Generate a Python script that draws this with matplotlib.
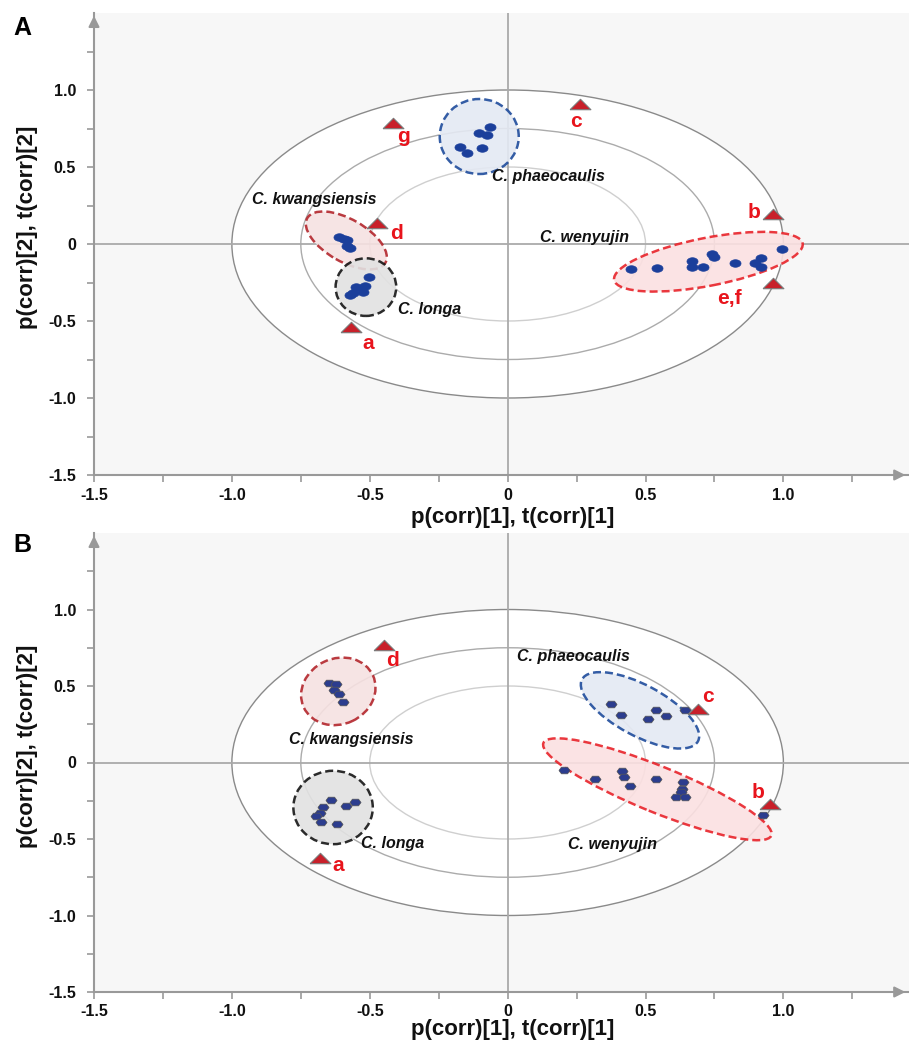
import numpy as np
import matplotlib
matplotlib.use("Agg")
import matplotlib.pyplot as plt
from matplotlib.patches import Ellipse
from matplotlib.transforms import ScaledTranslation
from matplotlib.ticker import FixedLocator, FuncFormatter

plt.rcParams['font.family'] = ['Liberation Sans', 'DejaVu Sans']

# ---- panel A: scores t(corr) per species ----
a_kwang_x = [-0.610, -0.592, -0.581, -0.584, -0.573]
a_kwang_y = [0.045, 0.032, 0.026, -0.013, -0.026]
a_longa_x = [-0.501, -0.519, -0.549, -0.525, -0.573, -0.561]
a_longa_y = [-0.212, -0.273, -0.281, -0.310, -0.331, -0.316]
a_phaeo_x = [-0.063, -0.104, -0.074, -0.174, -0.146, -0.092]
a_phaeo_y = [0.762, 0.719, 0.708, 0.632, 0.591, 0.625]
a_wenyu_x = [0.449, 0.542, 0.669, 0.669, 0.709, 0.740, 0.748, 0.824, 0.897, 0.917, 0.917, 0.995]
a_wenyu_y = [-0.164, -0.158, -0.108, -0.147, -0.147, -0.065, -0.082, -0.125, -0.125, -0.093, -0.147, -0.030]

# panel A: loadings p(corr) of marker compounds
a_load_names = ['a', 'b', 'c', 'd', 'e,f', 'g']
a_load_x = [-0.567, 0.961, 0.261, -0.473, 0.961, -0.416]
a_load_y = [-0.541, 0.195, 0.909, 0.138, -0.251, 0.784]

# ---- panel B ----
b_kwang_x = [-0.646, -0.622, -0.630, -0.613, -0.597]
b_kwang_y = [0.522, 0.516, 0.477, 0.446, 0.396]
b_longa_x = [-0.642, -0.586, -0.553, -0.670, -0.680, -0.694, -0.676, -0.620]
b_longa_y = [-0.246, -0.286, -0.258, -0.294, -0.327, -0.349, -0.388, -0.403]
b_phaeo_x = [0.376, 0.410, 0.509, 0.537, 0.576, 0.642]
b_phaeo_y = [0.381, 0.309, 0.285, 0.346, 0.303, 0.346]
b_wenyu_x = [0.204, 0.316, 0.415, 0.421, 0.443, 0.537, 0.636, 0.633, 0.627, 0.612, 0.642, 0.927]
b_wenyu_y = [-0.050, -0.111, -0.055, -0.094, -0.153, -0.105, -0.127, -0.176, -0.192, -0.225, -0.225, -0.340]

b_load_names = ['a', 'b', 'c', 'd']
b_load_x = [-0.680, 0.951, 0.691, -0.450]
b_load_y = [-0.621, -0.268, 0.348, 0.767]

# label placement (data coords): loadings letters, species names
a_lbl_x = [-0.507, 0.892, 0.246, -0.402, 0.806, -0.379]
a_lbl_y = [-0.680, 0.167, 0.762, 0.034, -0.390, 0.664]
b_lbl_x = [-0.614, 0.909, 0.727, -0.416]
b_lbl_y = [-0.710, -0.229, 0.396, 0.629]

species = ['C. kwangsiensis', 'C. longa', 'C. phaeocaulis', 'C. wenyujin']
a_sp_x = [-0.926, -0.396, -0.056, 0.116]
a_sp_y = [0.292, -0.424, 0.437, 0.044]
b_sp_x = [-0.794, -0.531, 0.035, 0.219]
b_sp_y = [0.152, -0.529, 0.695, -0.534]

# group ellipses: centre (data), semi-axes (px), angle (deg)
a_groups = [(-0.585, 0.023, 45.0, 21.3, -29.7),
            (-0.514, -0.280, 30.3, 28.8, 0.0),
            (-0.103, 0.698, 39.5, 37.5, 0.0),
            (0.728, -0.115, 96.0, 24.0, 11.0)]
b_groups = [(-0.614, 0.465, 38.1, 32.8, 24.8),
            (-0.633, -0.294, 39.7, 36.7, 0.0),
            (0.480, 0.341, 65.7, 25.4, -28.1),
            (0.543, -0.175, 123.0, 23.0, -22.1)]

grp_edge = ['#b3262c', '#151515', '#1f4c9c', '#e8232a']
grp_face = ['#f6e1e1', '#e2e2e2', '#e4e9f3', '#fbe0e1']

DPI = 100
fig = plt.figure(figsize=(9.09, 10.47), dpi=DPI)

oval = [(0.5 * np.cos(t), 0.34 * np.sin(t)) for t in np.linspace(0, 2 * np.pi, 30)]
hexa = [(-1, 0), (-0.55, 0.6), (0.55, 0.6), (1, 0), (0.55, -0.6), (-0.55, -0.6), (-1, 0)]
tri = [(-1, -0.5), (1, -0.5), (0, 0.5), (-1, -0.5)]


def fmt(v, _):
    return '0' if abs(v) < 1e-9 else f'{v:.1f}'


def draw_panel(ax, scores, load, lbl, sp_pos, groups, marker, msize, mcolor, medge):
    ax.set_xlim(-1.5, 1.4555)
    ax.set_ylim(-1.5, 1.5)
    ax.set_facecolor('#f7f7f7')

    # reference circles in correlation space
    ax.add_patch(Ellipse((0, 0), 2, 2, facecolor='white', edgecolor='#8a8a8a', lw=1.0, zorder=1))
    ax.add_patch(Ellipse((0, 0), 1.5, 1.5, facecolor='none', edgecolor='#ababab', lw=1.0, zorder=1))
    ax.add_patch(Ellipse((0, 0), 1.0, 1.0, facecolor='none', edgecolor='#cfcfcf', lw=1.0, zorder=1))
    ax.axhline(0, color='#aaaaaa', lw=1.3, zorder=2)
    ax.axvline(0, color='#aaaaaa', lw=1.3, zorder=2)

    for (cx, cy, sa, sb, ang), ec, fc in zip(groups, grp_edge, grp_face):
        tr = fig.dpi_scale_trans + ScaledTranslation(cx, cy, ax.transData)
        ax.add_patch(Ellipse((0, 0), 2 * sa / DPI, 2 * sb / DPI, angle=ang, transform=tr,
                             facecolor=fc, edgecolor=ec, lw=1.8, ls=(0, (3.2, 1.6)),
                             alpha=0.9, zorder=3))

    for xs, ys in scores:
        ax.scatter(xs, ys, marker=marker, s=msize ** 2, color=mcolor, edgecolors=medge,
                   linewidths=0.5, zorder=5)

    names, lx, ly = load
    ax.scatter(lx, ly, marker=tri, s=15 ** 2, color='#c8202a', edgecolors='#7a7a7a',
               linewidths=0.8, zorder=6)
    for n, tx, ty in zip(names, lbl[0], lbl[1]):
        ax.text(tx, ty, n, color='#e8141c', fontsize=15, fontweight='bold',
                ha='center', va='baseline', zorder=7)

    for s, tx, ty in zip(species, sp_pos[0], sp_pos[1]):
        ax.text(tx, ty, s, fontsize=11.5, fontweight='bold', fontstyle='italic',
                color='#111111', ha='left', va='center', zorder=7)

    for side in ('top', 'right'):
        ax.spines[side].set_visible(False)
    for side in ('left', 'bottom'):
        ax.spines[side].set_color('#999999')
        ax.spines[side].set_linewidth(1.5)
    ax.annotate('', xy=(0, 1.0), xytext=(0, 0.975), xycoords='axes fraction',
                arrowprops=dict(arrowstyle='-|>', color='#999999', lw=1.5, mutation_scale=16))
    ax.annotate('', xy=(0.999, 0), xytext=(0.985, 0), xycoords='axes fraction',
                arrowprops=dict(arrowstyle='-|>', color='#999999', lw=1.5, mutation_scale=16))

    major = [-1.5, -1.0, -0.5, 0.0, 0.5, 1.0]
    minor = [-1.25, -0.75, -0.25, 0.25, 0.75, 1.25]
    for axis in (ax.xaxis, ax.yaxis):
        axis.set_major_locator(FixedLocator(major))
        axis.set_minor_locator(FixedLocator(minor))
        axis.set_major_formatter(FuncFormatter(fmt))
    ax.tick_params(which='both', direction='out', color='#999999', length=5, width=1.2)
    ax.tick_params(axis='x', pad=4)
    ax.tick_params(axis='y', pad=8)
    for t in ax.get_xticklabels() + ax.get_yticklabels():
        t.set_fontsize(11.5)
        t.set_fontweight('bold')
        t.set_color('#111111')


W, H = 909, 1047
ax_a = fig.add_axes([94 / W, 1 - 475 / H, 815 / W, 462 / H])
ax_b = fig.add_axes([94 / W, 1 - 992 / H, 815 / W, 459 / H])

draw_panel(ax_a,
           [(a_kwang_x, a_kwang_y), (a_longa_x, a_longa_y), (a_phaeo_x, a_phaeo_y), (a_wenyu_x, a_wenyu_y)],
           (a_load_names, a_load_x, a_load_y), (a_lbl_x, a_lbl_y), (a_sp_x, a_sp_y),
           a_groups, oval, 8, '#1b3f9b', '#1b3f9b')
draw_panel(ax_b,
           [(b_kwang_x, b_kwang_y), (b_longa_x, b_longa_y), (b_phaeo_x, b_phaeo_y), (b_wenyu_x, b_wenyu_y)],
           (b_load_names, b_load_x, b_load_y), (b_lbl_x, b_lbl_y), (b_sp_x, b_sp_y),
           b_groups, hexa, 8, '#2c3d8e', '#555555')

for ax, yl in ((ax_a, -0.093), (ax_b, -0.081)):
    ax.text(0.514, yl, 'p(corr)[1], t(corr)[1]', transform=ax.transAxes, ha='center',
            va='center', fontsize=16, fontweight='bold', color='#111111')
    ax.text(-0.082, 0.536, 'p(corr)[2], t(corr)[2]', transform=ax.transAxes, ha='center',
            va='center', rotation=90, fontsize=16, fontweight='bold', color='#111111')

fig.text(13 / W, 1 - 28 / H, 'A', fontsize=18, fontweight='bold', ha='left', va='center')
fig.text(13 / W, 1 - 545 / H, 'B', fontsize=18, fontweight='bold', ha='left', va='center')

fig.savefig('out.png', dpi=DPI)
